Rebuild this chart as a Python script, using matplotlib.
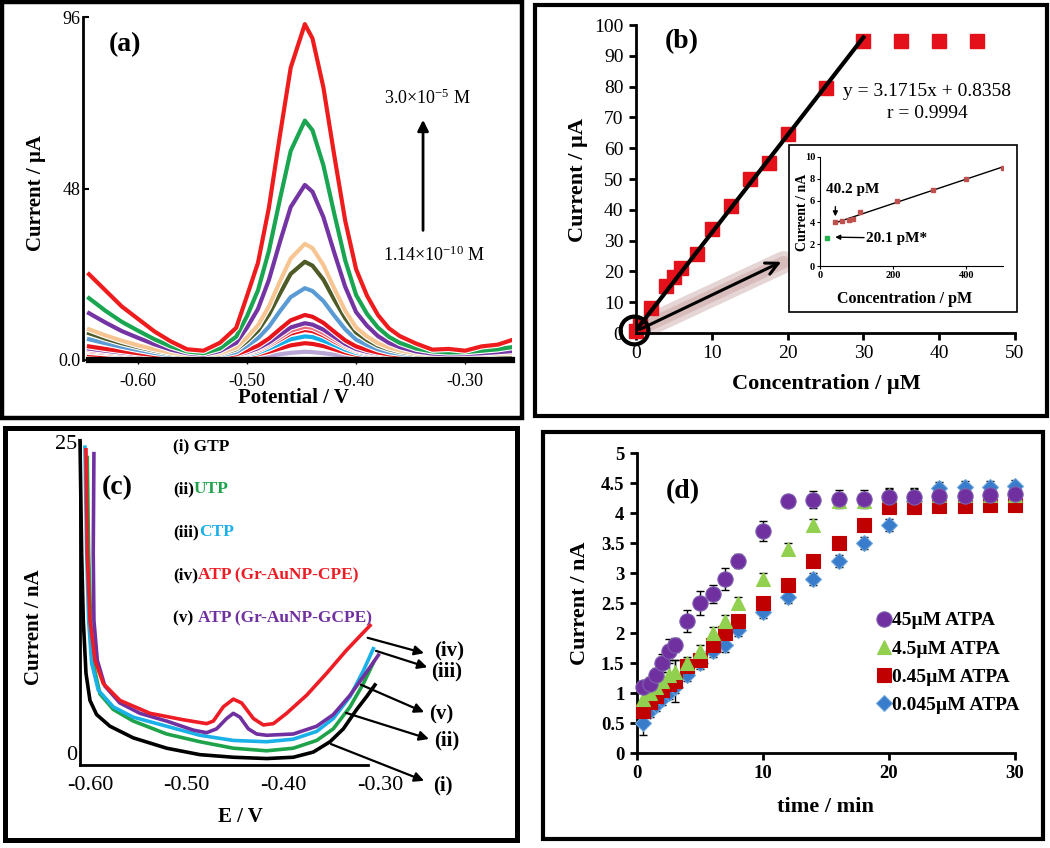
import numpy as np
import matplotlib
matplotlib.use("Agg")
import matplotlib.pyplot as plt
import matplotlib.patheffects as pe
from matplotlib.patches import Rectangle

plt.rcParams['font.family'] = ['Liberation Serif', 'DejaVu Serif']
plt.rcParams['mathtext.default'] = 'regular'
plt.rcParams['axes.unicode_minus'] = False

W, H = 1050, 848
fig = plt.figure(figsize=(W / 100, H / 100), dpi=100)

def axpx(l, t, r, b):
    return fig.add_axes([l / W, 1 - b / H, (r - l) / W, (b - t) / H])

def ftxt(x, y, s, **kw):
    return fig.text(x / W, 1 - y / H, s, **kw)

# ---------------- Panel (a) data ----------------
E_a = [-0.645, -0.63, -0.615, -0.60, -0.585, -0.57, -0.555, -0.54, -0.525, -0.51, -0.50,
       -0.49, -0.48, -0.47, -0.46, -0.447, -0.44, -0.43, -0.42, -0.41, -0.40, -0.39,
       -0.38, -0.37, -0.36, -0.345, -0.33, -0.315, -0.30, -0.285, -0.27, -0.257]
a_red1 = [24, 19.5, 15, 11.5, 8, 5.2, 3.0, 2.6, 4.8, 9.0, 18, 27.2, 42.6, 62.6, 81.8, 94,
          90, 76.3, 57.2, 39, 25.4, 18, 12.6, 8.9, 6.7, 4.6, 2.9, 3.1, 2.6, 3.8, 4.3, 5.6]
a_green = [17.3, 13.8, 10.7, 8.2, 5.8, 3.8, 2.4, 1.9, 3.2, 6.5, 12.3, 19.5, 30.5, 44.8, 58.5, 67,
           64.3, 54.5, 40.9, 27.9, 18.2, 12.9, 9.1, 6.5, 4.8, 3.2, 2.4, 2.1, 2.2, 2.6, 3.0, 3.6]
a_purple = [13.1, 10.5, 8.1, 6.2, 4.4, 2.9, 1.9, 1.5, 2.5, 4.8, 9.1, 14.3, 22.4, 32.9, 42.8, 49,
            47.1, 40, 30, 20.5, 13.4, 9.6, 6.7, 4.8, 3.6, 2.4, 1.8, 1.6, 1.7, 1.9, 2.2, 2.5]
a_peach = [8.6, 6.9, 5.4, 4.1, 3.0, 2.1, 1.5, 1.3, 1.9, 3.5, 6.3, 9.7, 15.0, 21.9, 28.4, 32.5,
           31.3, 26.6, 20.0, 13.8, 9.1, 6.6, 4.7, 3.5, 2.7, 1.9, 1.5, 1.4, 1.5, 1.6, 1.8, 2.0]
a_olive = [7.5, 6.0, 4.7, 3.6, 2.6, 1.8, 1.3, 1.1, 1.6, 3.0, 5.3, 8.2, 12.7, 18.5, 24.1, 27.5,
           26.4, 22.5, 16.9, 11.7, 7.7, 5.6, 4.0, 3.0, 2.3, 1.6, 1.3, 1.2, 1.2, 1.3, 1.4, 1.5]
a_blue = [5.8, 4.7, 3.7, 2.8, 2.0, 1.4, 1.0, 0.9, 1.3, 2.2, 4.0, 6.1, 9.3, 13.6, 17.6, 20.1,
          19.3, 16.5, 12.4, 8.6, 5.7, 4.2, 3.0, 2.2, 1.8, 1.3, 1.0, 0.9, 0.9, 1.0, 1.1, 1.2]
a_red2 = [3.8, 3.1, 2.5, 1.9, 1.4, 1.0, 0.8, 0.8, 1.0, 1.6, 2.7, 4.0, 6.0, 8.6, 11.1, 12.6,
          12.1, 10.4, 7.9, 5.5, 3.8, 2.8, 2.1, 1.6, 1.3, 1.0, 0.9, 0.8, 0.8, 0.9, 0.9, 1.0]
a_purple2 = [3.2, 2.6, 2.1, 1.6, 1.2, 0.9, 0.7, 0.7, 0.9, 1.4, 2.2, 3.3, 4.9, 7.0, 9.1, 10.3,
             9.9, 8.5, 6.5, 4.5, 3.1, 2.3, 1.8, 1.4, 1.1, 0.9, 0.8, 0.7, 0.7, 0.8, 0.8, 0.9]
a_pink = [2.8, 2.3, 1.8, 1.4, 1.1, 0.8, 0.6, 0.6, 0.8, 1.2, 2.0, 3.0, 4.4, 6.3, 8.2, 9.3,
          9.0, 7.6, 5.8, 4.1, 2.8, 2.1, 1.6, 1.2, 1.0, 0.8, 0.7, 0.6, 0.6, 0.7, 0.7, 0.8]
a_red3 = [2.5, 2.0, 1.6, 1.3, 1.0, 0.7, 0.5, 0.5, 0.7, 1.1, 1.8, 2.6, 4.0, 5.7, 7.4, 8.4,
          8.1, 6.9, 5.2, 3.7, 2.5, 1.8, 1.4, 1.1, 0.9, 0.7, 0.6, 0.5, 0.5, 0.6, 0.6, 0.7]
a_lblue = [2.3, 1.9, 1.5, 1.2, 0.9, 0.7, 0.5, 0.5, 0.6, 0.9, 1.5, 2.1, 3.2, 4.5, 5.8, 6.6,
           6.4, 5.4, 4.2, 2.9, 2.0, 1.5, 1.2, 0.9, 0.8, 0.6, 0.5, 0.5, 0.5, 0.5, 0.6, 0.6]
a_red4 = [1.6, 1.3, 1.1, 0.9, 0.7, 0.5, 0.4, 0.4, 0.5, 0.7, 1.1, 1.6, 2.3, 3.2, 4.1, 4.7,
          4.5, 3.9, 3.0, 2.1, 1.5, 1.1, 0.9, 0.7, 0.6, 0.5, 0.4, 0.4, 0.4, 0.4, 0.5, 0.5]
a_lav = [1.0, 0.9, 0.8, 0.6, 0.5, 0.4, 0.3, 0.3, 0.3, 0.4, 0.6, 0.8, 1.2, 1.6, 2.0, 2.3,
         2.2, 1.9, 1.5, 1.1, 0.8, 0.6, 0.5, 0.4, 0.4, 0.3, 0.3, 0.3, 0.3, 0.3, 0.3, 0.3]

curves_a = [  # drawn from smallest to largest
    (a_lav, '#b7a6d6'), (a_red4, '#e8141b'), (a_lblue, '#12aee8'), (a_red3, '#e8141b'),
    (a_pink, '#ee6b7a'), (a_purple2, '#7434a4'), (a_red2, '#e8141b'), (a_blue, '#5b9bd5'),
    (a_olive, '#4e5b27'), (a_peach, '#f6c592'), (a_purple, '#7434a4'), (a_green, '#1aa650'),
    (a_red1, '#ee1c1c'),
]

# ---------------- Panel (b) data ----------------
conc_uM = [0, 0.5, 2, 4, 5, 6, 8, 10, 12.5, 15, 17.5, 20, 25, 30, 35, 40, 45]
cur_uA = [0.5, 2.5, 8.1, 15.4, 18.3, 21.2, 25.6, 33.7, 41.3, 50, 55.1, 64.6, 79.6, 94.9, 94.9, 94.9, 94.9]
fit_slope, fit_icpt = 3.1715, 0.8358
ins_conc_pM = [40.2, 60, 80, 90, 110, 210, 310, 400, 500]
ins_cur_nA = [4.0, 4.1, 4.2, 4.3, 5.0, 6.0, 7.0, 8.0, 9.0]
ins_green_pM, ins_green_nA = [20.1], [2.6]

# ---------------- Panel (c) data ----------------
c_i_E = [-0.6103, -0.6086, -0.6069, -0.6041, -0.60, -0.5931, -0.5793, -0.5552, -0.5207, -0.4862,
         -0.4517, -0.4172, -0.3897, -0.369, -0.3517, -0.3379, -0.3241, -0.3138, -0.3052]
c_i_I = [25.1, 16.4, 11.2, 7.1, 5.0, 3.9, 3.0, 2.1, 1.3, 0.8, 0.6, 0.5, 0.6, 1.0, 1.8, 2.8, 4.3, 5.3, 6.2]
c_ii_E = [-0.6028, -0.6014, -0.5993, -0.5959, -0.5897, -0.5759, -0.5552, -0.5207, -0.4862, -0.4517,
          -0.4172, -0.3897, -0.3655, -0.3483, -0.331, -0.3172, -0.3069]
c_ii_I = [23.8, 16.4, 11.2, 7.6, 5.5, 4.3, 3.4, 2.4, 1.8, 1.3, 1.1, 1.3, 1.9, 2.8, 4.5, 6.3, 7.9]
c_iii_E = [-0.6052, -0.6034, -0.6014, -0.5983, -0.5914, -0.5759, -0.5552, -0.5207, -0.4862, -0.4517,
           -0.4172, -0.3897, -0.3655, -0.3483, -0.331, -0.3172, -0.3069]
c_iii_I = [24.6, 16.4, 11.2, 7.9, 5.8, 4.5, 3.7, 3.0, 2.3, 1.9, 1.8, 2.0, 2.6, 3.6, 5.3, 7.3, 9.0]
c_iv_E = [-0.6041, -0.6028, -0.60, -0.5948, -0.5862, -0.569, -0.5379, -0.5034, -0.4793, -0.4724,
          -0.4621, -0.4517, -0.4431, -0.431, -0.4207, -0.4103, -0.3966, -0.3759, -0.3552, -0.3345, -0.3103]
c_iv_I = [24.4, 16.4, 11.2, 8.1, 6.3, 5.0, 4.0, 3.5, 3.2, 3.4, 4.5, 5.1, 4.8, 3.6, 3.1, 3.2, 4.0,
          5.4, 7.1, 8.9, 10.8]
c_v_E = [-0.5959, -0.5966, -0.5959, -0.5924, -0.5845, -0.569, -0.5483, -0.5207, -0.4931, -0.4793,
         -0.469, -0.4586, -0.4517, -0.4448, -0.4362, -0.4276, -0.4172, -0.3897, -0.3655, -0.3483,
         -0.331, -0.3138, -0.3017]
c_v_I = [24.1, 16.4, 11.2, 8.1, 6.1, 4.8, 4.0, 3.4, 2.7, 2.5, 2.8, 3.6, 4.0, 3.7, 2.8, 2.4, 2.3,
         2.4, 3.0, 3.9, 5.4, 7.2, 8.5]

# ---------------- Panel (d) data ----------------
t_min = [0.5, 1, 1.5, 2, 2.5, 3, 4, 5, 6, 7, 8, 10, 12, 14, 16, 18, 20, 22, 24, 26, 28, 30]
d_45 = [1.1, 1.15, 1.3, 1.5, 1.7, 1.8, 2.2, 2.5, 2.65, 2.9, 3.2, 3.7, 4.2, 4.22, 4.23, 4.24, 4.26,
        4.27, 4.28, 4.29, 4.3, 4.31]
d_45_err = [0.1, 0.12, 0.12, 0.15, 0.2, 0.12, 0.18, 0.2, 0.15, 0.18, 0.12, 0.16, 0.1, 0.14, 0.15,
            0.15, 0.15, 0.15, 0.12, 0.12, 0.12, 0.12]
d_4_5 = [0.9, 1.0, 1.1, 1.2, 1.3, 1.35, 1.5, 1.7, 2.0, 2.2, 2.5, 2.9, 3.4, 3.8, 4.2, 4.2, 4.3, 4.3,
         4.3, 4.3, 4.3, 4.3]
d_4_5_err = [0.1, 0.1, 0.12, 0.15, 0.25, 0.2, 0.1, 0.1, 0.1, 0.1, 0.1, 0.1, 0.1, 0.1, 0.1, 0.1, 0.1,
             0.1, 0.1, 0.1, 0.1, 0.1]
d_0_45 = [0.7, 0.85, 0.95, 1.05, 1.15, 1.2, 1.45, 1.55, 1.8, 2.0, 2.2, 2.5, 2.8, 3.2, 3.5, 3.8, 4.1,
          4.1, 4.12, 4.12, 4.13, 4.13]
d_0_45_err = [0.1, 0.1, 0.1, 0.1, 0.12, 0.35, 0.12, 0.1, 0.1, 0.1, 0.1, 0.1, 0.1, 0.1, 0.1, 0.1, 0.1,
              0.1, 0.1, 0.1, 0.1, 0.1]
d_0_045 = [0.5, 0.7, 0.8, 0.9, 1.0, 1.1, 1.3, 1.5, 1.7, 1.8, 2.05, 2.35, 2.6, 2.9, 3.2, 3.5, 3.8,
           4.2, 4.42, 4.43, 4.44, 4.45]
d_0_045_err = [0.2, 0.1, 0.1, 0.1, 0.1, 0.1, 0.1, 0.1, 0.1, 0.12, 0.1, 0.1, 0.1, 0.1, 0.1, 0.1,
               0.1, 0.1, 0.1, 0.1, 0.1, 0.1]
legend_d = ['45µM ATPA', '4.5µM ATPA', '0.45µM ATPA', '0.045µM ATPA']

# ================= Frames =================
for (l, t, r, b, lw) in [(2, 2, 522, 418, 3.2), (535, 5, 1047, 416, 3.0),
                         (5, 428, 517, 840, 3.6), (543, 432, 1043, 839, 3.0)]:
    fig.add_artist(Rectangle((l / W, 1 - b / H), (r - l) / W, (b - t) / H,
                             transform=fig.transFigure, fill=False, ec='black', lw=lw))

# ================= Panel (a) =================
axa = axpx(83, 17, 512, 360)
for vals, col in curves_a:
    axa.plot(E_a, vals, color=col, lw=3.0, solid_joinstyle='round',
             path_effects=[pe.Stroke(linewidth=4.6, foreground='white'), pe.Normal()])
axa.set_xlim(-0.6505, -0.257)
axa.set_ylim(0, 96)
for s in ['top', 'right']:
    axa.spines[s].set_visible(False)
axa.spines['left'].set_linewidth(2)
axa.spines['bottom'].set_linewidth(4.5)
axa.spines['bottom'].set_bounds(-0.645, -0.257)
axa.set_yticks([0, 48, 96])
axa.set_yticklabels(['0.0', '48', '96'])
axa.set_xticks([-0.60, -0.50, -0.40, -0.30])
axa.set_xticklabels(['-0.60', '-0.50', '-0.40', '-0.30'])
axa.tick_params(axis='y', direction='in', length=4, width=1.5, labelsize=13, pad=2)
axa.tick_params(axis='x', direction='out', length=3, width=1, labelsize=13, pad=6)
ftxt(125, 45, '(a)', fontsize=20, fontweight='bold', ha='center', va='center')
axa.annotate('', xy=(-0.3386, 68), xytext=(-0.3386, 35.5),
             arrowprops=dict(arrowstyle='-|>', color='black', lw=2, mutation_scale=16))
ftxt(427, 98, '3.0×10$^{-5}$ M', fontsize=13, ha='center', va='center')
ftxt(434, 255, '1.14×10$^{-10}$ M', fontsize=13, ha='center', va='center')
ftxt(36, 193, 'Current / µA', fontsize=15, fontweight='bold', rotation=90, ha='center', va='center')
ftxt(293, 398, 'Potential / V', fontsize=15, fontweight='bold', ha='center', va='center')

# ================= Panel (b) =================
axb = axpx(636, 25, 1015, 333)
xfit = np.array([0, 30])
# glow behind inset arrow
axb.plot([0.3, 19.5], [1.0, 23.0], color='#9c5a5a', lw=16, alpha=0.25, solid_capstyle='round', zorder=1)
axb.plot([0.3, 19.5], [1.0, 23.0], color='#b07070', lw=9, alpha=0.25, solid_capstyle='round', zorder=1)
axb.plot(conc_uM, cur_uA, 's', color='#e4101a', ms=9.5, zorder=2, clip_on=False)
axb.plot(xfit, fit_slope * xfit + fit_icpt, color='black', lw=3, zorder=3)
axb.annotate('', xy=(19.5, 23.5), xytext=(0.2, 0.8),
             arrowprops=dict(arrowstyle='->', color='black', lw=2.2, mutation_scale=22), zorder=4)
axb.plot([-0.3], [1.0], 'o', ms=20, mfc='none', mec='black', mew=3, clip_on=False, zorder=5)
axb.set_xlim(0, 50)
axb.set_ylim(0, 100)
for s in ['top', 'right']:
    axb.spines[s].set_visible(False)
for s in ['left', 'bottom']:
    axb.spines[s].set_linewidth(2)
axb.set_xticks(range(0, 51, 10))
axb.set_yticks(range(0, 101, 10))
axb.tick_params(direction='out', length=5, width=2, labelsize=14, pad=4)
ftxt(682, 42, '(b)', fontsize=20, fontweight='bold', ha='center', va='center')
ftxt(927, 92, 'y = 3.1715x + 0.8358', fontsize=14, ha='center', va='center')
ftxt(927, 114, 'r = 0.9994', fontsize=14, ha='center', va='center')
ftxt(578, 180, 'Current / µA', fontsize=16, fontweight='bold', rotation=90, ha='center', va='center')
ftxt(826, 384, 'Concentration / µM', fontsize=16, fontweight='bold', ha='center', va='center')

# inset
fig.add_artist(Rectangle((789 / W, 1 - 312 / H), (1017 - 789) / W, (312 - 145) / H,
                         transform=fig.transFigure, fill=True, fc='white', ec='black', lw=1.2, zorder=3))
axi = axpx(820, 157, 1003, 266)
axi.set_zorder(4)
axi.patch.set_alpha(0)
ip = np.polyfit(ins_conc_pM, ins_cur_nA, 1)
xi = np.array([ins_conc_pM[0], ins_conc_pM[-1]])
axi.plot(xi, np.polyval(ip, xi), color='black', lw=1)
axi.plot(ins_conc_pM, ins_cur_nA, 's', color='#c0504d', ms=3)
axi.plot(ins_green_pM, ins_green_nA, 's', color='#22b14c', ms=3)
axi.set_xlim(0, 500)
axi.set_ylim(0, 10)
for s in ['top', 'right']:
    axi.spines[s].set_visible(False)
axi.set_xticks([0, 200, 400])
axi.set_yticks([0, 2, 4, 6, 8, 10])
axi.tick_params(direction='out', length=2, width=0.8, labelsize=7.5, pad=1.5)
for lab in axi.get_xticklabels() + axi.get_yticklabels():
    lab.set_fontweight('bold')
axi.annotate('', xy=(42, 4.3), xytext=(42, 5.7),
             arrowprops=dict(arrowstyle='-|>', color='black', lw=1, mutation_scale=7))
axi.text(90, 7.0, '40.2 pM', fontsize=11, fontweight='bold', ha='center', va='center')
axi.annotate('', xy=(34, 2.65), xytext=(128, 2.6),
             arrowprops=dict(arrowstyle='-|>', color='black', lw=1, mutation_scale=7))
axi.text(210, 2.55, '20.1 pM*', fontsize=11, fontweight='bold', ha='center', va='center')
ftxt(803, 212, 'Current / nA', fontsize=10, fontweight='bold', rotation=90, ha='center', va='center', zorder=5)
ftxt(905, 299, 'Concentration / pM', fontsize=11.5, fontweight='bold', ha='center', va='center', zorder=5)

# ================= Panel (c) =================
axc = axpx(80, 442, 380, 765)
axc.plot(c_i_E, c_i_I, color='black', lw=2.6, clip_on=False)
axc.plot(c_ii_E, c_ii_I, color='#1ea34a', lw=2.6, clip_on=False)
axc.plot(c_iii_E, c_iii_I, color='#1ab0e8', lw=2.6, clip_on=False)
axc.plot(c_v_E, c_v_I, color='#7030a0', lw=2.6, clip_on=False)
axc.plot(c_iv_E, c_iv_I, color='#ee1c24', lw=2.6, clip_on=False)
axc.set_xlim(-0.6103, -0.30)
axc.set_ylim(0, 25)
for s in ['top', 'right']:
    axc.spines[s].set_visible(False)
axc.spines['left'].set_linewidth(2)
axc.spines['bottom'].set_linewidth(2)
axc.spines['bottom'].set_bounds(-0.6103, -0.312)
axc.set_xticks([-0.60, -0.50, -0.40, -0.30])
axc.set_xticklabels(['-0.60', '-0.50', '-0.40', '-0.30'])
axc.set_yticks([0, 25])
axc.tick_params(axis='y', length=0, labelsize=16, pad=2)
axc.tick_params(axis='x', length=0, labelsize=16, pad=8)
axc.get_yticklabels()[0].set_va('bottom')
ftxt(117, 488, '(c)', fontsize=20, fontweight='bold', ha='center', va='center')
ftxt(34, 627, 'Current / nA', fontsize=15, fontweight='bold', rotation=90, ha='center', va='center')
ftxt(240, 817, 'E / V', fontsize=15, fontweight='bold', ha='center', va='center')

fig.canvas.draw()
rend = fig.canvas.get_renderer()
labels_c = [('(i) GTP', '', 'black', 446), ('(ii)', 'UTP', '#1ea34a', 489),
            ('(iii)', 'CTP', '#1ab0e8', 532), ('(iv)', 'ATP (Gr-AuNP-CPE)', '#ee1c24', 575),
            ('(v) ', 'ATP (Gr-AuNP-GCPE)', '#7030a0', 618)]
for p1, p2, col, y in labels_c:
    t1 = ftxt(173, y, p1, fontsize=12.5, fontweight='bold', ha='left', va='center', color='black')
    if p2:
        bb = t1.get_window_extent(renderer=rend)
        fig.text(bb.x1 / W, 1 - y / H, p2, fontsize=12.5, fontweight='bold', ha='left',
                 va='center', color=col)

arrows_c = [((-0.3155, 9.9), (-0.2517, 8.6), '(iv)', (-0.2285, 8.9)),
            ((-0.3069, 8.9), (-0.2483, 7.5), '(iii)', (-0.231, 7.2)),
            ((-0.3224, 6.3), (-0.2517, 4.0), '(v)', (-0.2365, 3.9)),
            ((-0.3379, 4.1), (-0.2466, 1.95), '(ii)', (-0.231, 1.9)),
            ((-0.3534, 1.7), (-0.2517, -1.3), '(i)', (-0.2345, -1.6))]
for st, en, lab, lp in arrows_c:
    axc.annotate('', xy=en, xytext=st, annotation_clip=False,
                 arrowprops=dict(arrowstyle='-|>', color='black', lw=1.6, mutation_scale=14))
    axc.text(lp[0], lp[1], lab, fontsize=15, fontweight='bold', ha='center', va='center', clip_on=False)

# ================= Panel (d) =================
axd = axpx(637, 453, 1015, 753)
series_d = [(d_0_045, d_0_045_err, 'D', '#3a7ccc', 8.5, '#6fa8dc'),
            (d_0_45, d_0_45_err, 's', '#c00000', 10, '#c00000'),
            (d_4_5, d_4_5_err, '^', '#92d050', 10, '#92d050'),
            (d_45, d_45_err, 'o', '#7030a0', 11, '#7f5fb0')]
handles = {}
for vals, err, mk, col, ms, ec in series_d:
    axd.errorbar(t_min, vals, yerr=err, fmt='none', ecolor='black', elinewidth=1, capsize=3,
                 capthick=1, zorder=2)
    h, = axd.plot(t_min, vals, mk, color=col, mec=ec, mew=0.8, ms=ms, zorder=3, clip_on=False)
    handles[mk] = h
axd.set_xlim(0, 30)
axd.set_ylim(0, 5)
for s in ['top', 'right']:
    axd.spines[s].set_visible(False)
for s in ['left', 'bottom']:
    axd.spines[s].set_linewidth(2)
axd.set_xticks([0, 10, 20, 30])
axd.set_yticks([0, 0.5, 1, 1.5, 2, 2.5, 3, 3.5, 4, 4.5, 5])
axd.set_yticklabels(['0', '0.5', '1', '1.5', '2', '2.5', '3', '3.5', '4', '4.5', '5'])
axd.tick_params(direction='out', length=5, width=2, labelsize=13.5, pad=4)
for lab in axd.get_xticklabels() + axd.get_yticklabels():
    lab.set_fontweight('bold')
leg = axd.legend([handles['o'], handles['^'], handles['s'], handles['D']], legend_d,
                 loc='upper left', bbox_to_anchor=((868 - 637) / (1015 - 637), (753 - 602) / 300),
                 frameon=False, handlelength=0.6, handletextpad=0.15, labelspacing=0.55,
                 borderpad=0, prop={'weight': 'bold', 'size': 14})
ftxt(683, 492, '(d)', fontsize=20, fontweight='bold', ha='center', va='center')
ftxt(580, 603, 'Current / nA', fontsize=16, fontweight='bold', rotation=90, ha='center', va='center')
ftxt(825, 807, 'time / min', fontsize=16, fontweight='bold', ha='center', va='center')

fig.savefig('out.png', dpi=100)
